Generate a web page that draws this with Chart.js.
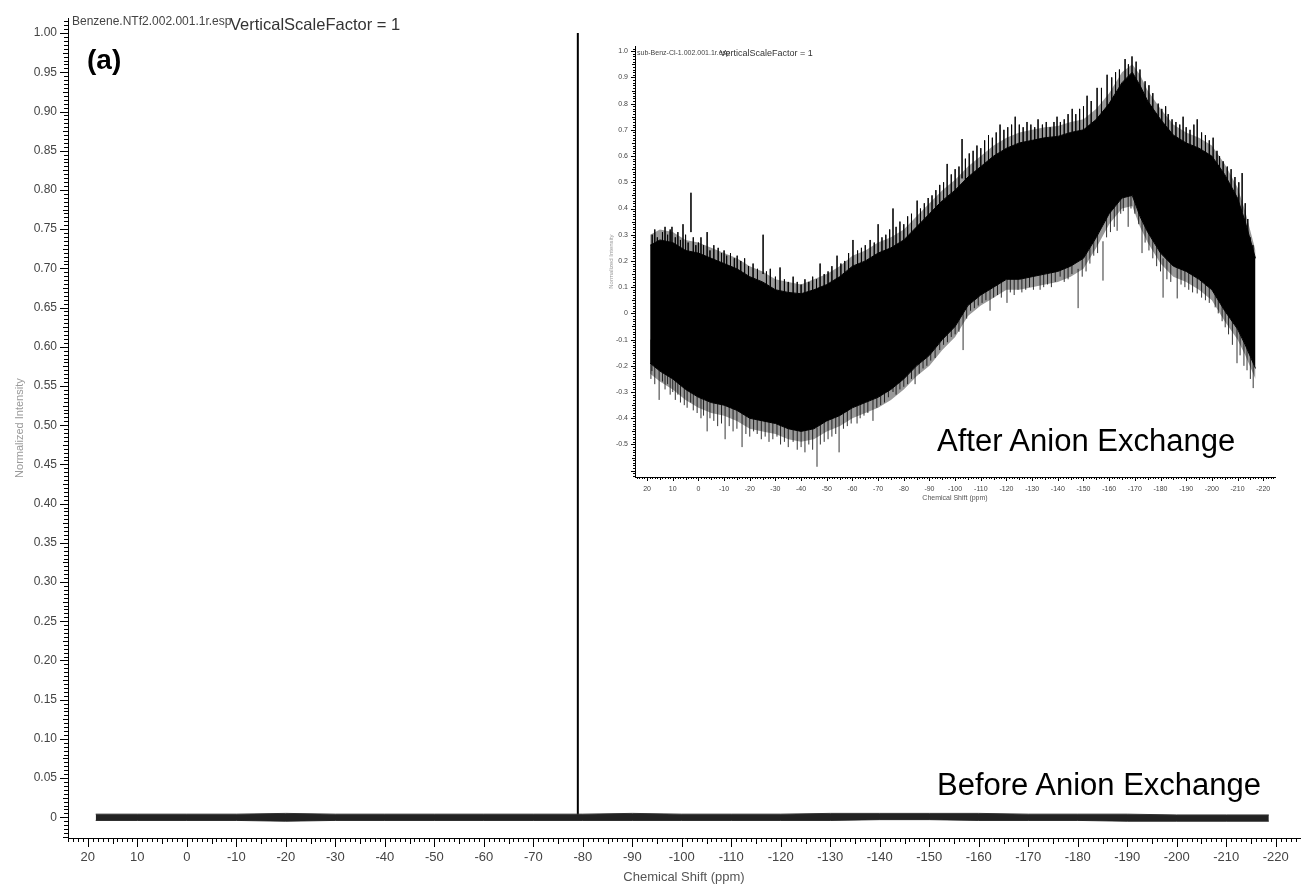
<!DOCTYPE html>
<html>
<head>
<meta charset="utf-8">
<script src="https://cdn.jsdelivr.net/npm/chart.js@4.4.1/dist/chart.umd.min.js"></script>
<style>
  html, body { margin: 0; padding: 0; background: #fff; }
  #wrap { position: relative; width: 1302px; height: 888px; overflow: hidden; font-family: Arial, "Liberation Sans", sans-serif; }
  canvas { position: absolute; }
  #main { left: 0; top: 0; }
  #inset { left: 600px; top: 35px; }
  .lbl { position: absolute; white-space: nowrap; line-height: 1; color: #000; }
</style>
</head>
<body>
<div id="wrap">
  <canvas id="main" width="1302" height="888"></canvas>
  <canvas id="inset" width="680" height="475"></canvas>
  <div class="lbl" style="left:72px; top:15px; font-size:12px; color:#444;">Benzene.NTf2.002.001.1r.esp</div>
  <div class="lbl" style="left:230px; top:16px; font-size:16.5px; color:#333;">VerticalScaleFactor = 1</div>
  <div class="lbl" style="left:87px; top:46px; font-size:28px; font-weight:bold;">(a)</div>
  <div class="lbl" style="left:637px; top:49px; font-size:7px; color:#444;">sub-Benz-Cl-1.002.001.1r.esp</div>
  <div class="lbl" style="left:720px; top:49px; font-size:9px; color:#333;">VerticalScaleFactor = 1</div>
  <div class="lbl" style="left:937px; top:425px; font-size:31px;">After Anion Exchange</div>
  <div class="lbl" style="left:937px; top:769px; font-size:31px;">Before Anion Exchange</div>
</div>
<script>
// ---- main spectrum (before exchange) ----
const mainXTicks = [20, 10, 0, -10, -20, -30, -40, -50, -60, -70, -80, -90, -100, -110, -120,
                    -130, -140, -150, -160, -170, -180, -190, -200, -210, -220];
const mainYTicks = [0, 0.05, 0.10, 0.15, 0.20, 0.25, 0.30, 0.35, 0.40, 0.45, 0.50,
                    0.55, 0.60, 0.65, 0.70, 0.75, 0.80, 0.85, 0.90, 0.95, 1.00];

const baselinePpm   = [18.4, 10, 0, -10, -20, -30, -40, -50, -60, -70, -80, -90, -100, -110, -120,
                       -130, -140, -150, -160, -170, -180, -190, -200, -210, -218.6];
const baselineUpper = [0.004, 0.004, 0.004, 0.004, 0.005, 0.004, 0.004, 0.004, 0.004, 0.004, 0.004, 0.005, 0.004,
                       0.004, 0.004, 0.005, 0.005, 0.005, 0.005, 0.004, 0.004, 0.004, 0.003, 0.003, 0.003];
const baselineLower = [-0.004, -0.004, -0.004, -0.004, -0.005, -0.004, -0.004, -0.004, -0.004, -0.004, -0.004, -0.004, -0.004,
                       -0.004, -0.004, -0.004, -0.003, -0.003, -0.004, -0.004, -0.004, -0.005, -0.005, -0.005, -0.005];
const peakPpm = -79.0;
const peakHeight = 1.0;

// ---- inset spectrum (after exchange) ----
const insetXTicks = mainXTicks;
const insetYTicks = [-0.5, -0.4, -0.3, -0.2, -0.1, 0, 0.1, 0.2, 0.3, 0.4, 0.5, 0.6, 0.7, 0.8, 0.9, 1.0];

// solid body of the noise band
const insetPpm   = [18.8, 15, 10, 5, 0, -5, -10, -15, -20, -25, -30, -35, -40, -45, -50, -55, -60, -65, -70, -75,
                    -80, -85, -90, -95, -100, -105, -110, -115, -120, -125, -130, -135, -140, -145, -150, -155,
                    -160, -165, -169, -172, -175, -180, -185, -190, -195, -200, -205, -210, -213, -217];
const insetUpper = [0.26, 0.28, 0.27, 0.24, 0.23, 0.21, 0.19, 0.17, 0.14, 0.12, 0.09, 0.08, 0.075, 0.09, 0.11, 0.14,
                    0.18, 0.20, 0.23, 0.25, 0.28, 0.33, 0.38, 0.43, 0.47, 0.52, 0.56, 0.60, 0.63, 0.65, 0.66, 0.67,
                    0.675, 0.69, 0.70, 0.74, 0.80, 0.88, 0.92, 0.87, 0.81, 0.74, 0.68, 0.65, 0.63, 0.60, 0.53, 0.44,
                    0.35, 0.21];
const insetLower = [-0.19, -0.22, -0.25, -0.29, -0.32, -0.34, -0.35, -0.37, -0.40, -0.41, -0.42, -0.44, -0.45, -0.44,
                    -0.41, -0.39, -0.36, -0.34, -0.32, -0.29, -0.25, -0.20, -0.16, -0.10, -0.05, 0.03, 0.07, 0.10,
                    0.13, 0.13, 0.14, 0.15, 0.16, 0.18, 0.21, 0.29, 0.38, 0.44, 0.45, 0.37, 0.31, 0.23, 0.18, 0.16,
                    0.13, 0.09, 0.01, -0.06, -0.12, -0.21];
// where the densely packed hairs thin out, above and below the body
const fringeUpper = [0.30, 0.32, 0.31, 0.28, 0.27, 0.25, 0.23, 0.21, 0.18, 0.16, 0.13, 0.12, 0.11, 0.13, 0.15, 0.18,
                     0.22, 0.24, 0.27, 0.29, 0.32, 0.37, 0.42, 0.47, 0.51, 0.56, 0.60, 0.64, 0.67, 0.69, 0.70, 0.71,
                     0.715, 0.73, 0.74, 0.78, 0.84, 0.92, 0.95, 0.91, 0.85, 0.78, 0.72, 0.69, 0.67, 0.64, 0.57, 0.48,
                     0.39, 0.24];
const fringeLower = [-0.23, -0.26, -0.29, -0.33, -0.36, -0.38, -0.39, -0.41, -0.44, -0.45, -0.46, -0.48, -0.49, -0.48,
                     -0.45, -0.43, -0.40, -0.38, -0.36, -0.33, -0.29, -0.24, -0.20, -0.14, -0.09, -0.01, 0.03, 0.06,
                     0.09, 0.09, 0.10, 0.11, 0.12, 0.14, 0.17, 0.25, 0.34, 0.40, 0.41, 0.33, 0.27, 0.19, 0.14, 0.12,
                     0.09, 0.05, -0.03, -0.10, -0.16, -0.25];

// hair tips sticking out of the top of the band: [ppm, intensity]
const upHairs = [
  [18, 0.30], [17, 0.32], [16, 0.29], [14, 0.31], [13, 0.33], [12, 0.30], [11, 0.32], [10.3, 0.33], [9, 0.29],
  [8, 0.31], [7, 0.28], [6, 0.34], [5, 0.30], [4, 0.27], [2.9, 0.46], [2, 0.29], [1, 0.26], [0, 0.27], [-1, 0.29],
  [-2, 0.26], [-3.4, 0.31], [-4.5, 0.24], [-6, 0.26], [-7.7, 0.25], [-9, 0.23], [-10, 0.24], [-11, 0.22],
  [-12.5, 0.23], [-14, 0.21], [-15.1, 0.22], [-16.5, 0.20], [-18, 0.21], [-19.5, 0.18], [-21.3, 0.19], [-23, 0.17],
  [-25.2, 0.30], [-26.5, 0.16], [-28, 0.17], [-30, 0.14], [-31.8, 0.175], [-33.5, 0.13], [-35, 0.12], [-36.9, 0.14],
  [-38.5, 0.12], [-40, 0.11], [-41.5, 0.13], [-43, 0.12], [-44.5, 0.14], [-46, 0.13], [-47.4, 0.19], [-49, 0.15],
  [-50.5, 0.16], [-52, 0.18], [-54, 0.22], [-55.5, 0.19], [-57, 0.20], [-58.5, 0.23], [-60.2, 0.28], [-62, 0.24],
  [-63.5, 0.25], [-65, 0.26], [-66.9, 0.28], [-68.5, 0.27], [-70, 0.34], [-71.5, 0.29], [-73, 0.30], [-74.5, 0.32],
  [-75.8, 0.40], [-77, 0.33], [-78.5, 0.35], [-80, 0.34], [-81.5, 0.37], [-83, 0.38], [-85.2, 0.43], [-86.5, 0.40],
  [-88, 0.42], [-89.5, 0.44], [-91, 0.45], [-92.5, 0.47], [-94, 0.49], [-95.5, 0.50], [-96.9, 0.57], [-98.5, 0.53],
  [-100, 0.55], [-101.5, 0.56], [-102.7, 0.665], [-104, 0.59], [-105.5, 0.61], [-107, 0.62], [-108.5, 0.64],
  [-110, 0.63], [-111.5, 0.66], [-113, 0.68], [-114.5, 0.67], [-116, 0.69], [-117.5, 0.72], [-119, 0.70],
  [-120.5, 0.71], [-122, 0.72], [-123.4, 0.75], [-125, 0.72], [-126.5, 0.71], [-128, 0.73], [-129.5, 0.72],
  [-131, 0.71], [-132.3, 0.74], [-134, 0.72], [-135.5, 0.73], [-137, 0.71], [-138.5, 0.73], [-139.7, 0.75],
  [-141, 0.73], [-142.5, 0.74], [-144, 0.76], [-145.6, 0.78], [-147, 0.76], [-148.5, 0.78], [-150, 0.79],
  [-151.4, 0.83], [-153, 0.81], [-155.3, 0.86], [-157, 0.86], [-159.2, 0.91], [-161, 0.90], [-162.5, 0.92],
  [-164, 0.93], [-166.2, 0.97], [-167.5, 0.95], [-168.9, 0.98], [-170.5, 0.96], [-172, 0.93], [-174, 0.885],
  [-175.5, 0.87], [-177, 0.84], [-179.1, 0.80], [-180.5, 0.78], [-182, 0.79], [-183, 0.76], [-184.5, 0.74],
  [-186, 0.73], [-187.5, 0.72], [-188.8, 0.75], [-190, 0.71], [-191.5, 0.70], [-193, 0.72], [-194.3, 0.74],
  [-196, 0.69], [-197.5, 0.68], [-199, 0.66], [-200.5, 0.67], [-202, 0.62], [-203, 0.60], [-204.4, 0.58],
  [-206, 0.56], [-207.5, 0.55], [-209, 0.52], [-210.5, 0.50], [-211.8, 0.535], [-213, 0.42], [-214, 0.36],
  [-214.9, 0.29], [-216, 0.26]
];
// hair tips hanging below the band
const downHairs = [
  [18.5, -0.25], [18.1, -0.22], [17, -0.27], [15.3, -0.33], [14, -0.26], [13, -0.29], [12, -0.27], [11, -0.31],
  [10, -0.30], [9, -0.33], [8, -0.31], [7, -0.34], [5.5, -0.35], [4.4, -0.36], [3, -0.34], [2, -0.37], [0.5, -0.38],
  [-1, -0.40], [-2, -0.39], [-3.4, -0.45], [-4.5, -0.40], [-6, -0.41], [-7.5, -0.43], [-9, -0.42], [-10.4, -0.48],
  [-12, -0.43], [-13.5, -0.45], [-15, -0.44], [-17, -0.51], [-18.5, -0.46], [-20, -0.47], [-21.5, -0.45],
  [-22.9, -0.46], [-24.5, -0.48], [-26, -0.47], [-27.5, -0.49], [-29, -0.48], [-30.6, -0.47], [-32, -0.50],
  [-33.5, -0.49], [-35, -0.51], [-36.9, -0.49], [-38.5, -0.52], [-40, -0.51], [-41.5, -0.53], [-43, -0.50],
  [-44.5, -0.52], [-46.2, -0.585], [-47.5, -0.50], [-49, -0.49], [-50.5, -0.48], [-52, -0.47], [-53.5, -0.46],
  [-54.8, -0.53], [-56.5, -0.44], [-58, -0.43], [-59.5, -0.42], [-61.8, -0.42], [-63, -0.40], [-64.5, -0.39],
  [-66, -0.38], [-68, -0.41], [-69.5, -0.36], [-71, -0.35], [-72.5, -0.34], [-74, -0.32], [-75.8, -0.30],
  [-77, -0.31], [-78.5, -0.29], [-80, -0.28], [-81.5, -0.27], [-83, -0.25], [-84.4, -0.27], [-86, -0.23],
  [-87.5, -0.21], [-89, -0.20], [-90.5, -0.18], [-92.2, -0.17], [-94, -0.14], [-95.5, -0.12], [-97, -0.11],
  [-98.5, -0.09], [-100, -0.08], [-101.5, -0.07], [-103.1, -0.14], [-104.5, -0.02], [-106, 0.01], [-107.5, 0.02],
  [-109, 0.03], [-110.5, 0.04], [-112, 0.05], [-113.6, 0.01], [-115, 0.06], [-116.5, 0.07], [-118, 0.06],
  [-120.2, 0.04], [-121.5, 0.08], [-123, 0.07], [-124.5, 0.09], [-126, 0.08], [-127.5, 0.09], [-129, 0.10],
  [-130.5, 0.09], [-133.1, 0.09], [-134.5, 0.10], [-136, 0.11], [-137.5, 0.10], [-139, 0.12], [-140.9, 0.14],
  [-142.5, 0.12], [-144, 0.13], [-145.5, 0.15], [-147.9, 0.02], [-149.5, 0.14], [-151, 0.16], [-152.5, 0.19],
  [-154, 0.22], [-155.5, 0.23], [-157.6, 0.125], [-159, 0.29], [-160.5, 0.31], [-162, 0.33], [-163.1, 0.315],
  [-164.5, 0.38], [-165.5, 0.39], [-167.4, 0.33], [-168.5, 0.40], [-170, 0.38], [-171.5, 0.34], [-172.8, 0.23],
  [-174, 0.27], [-175.5, 0.24], [-177, 0.21], [-178.5, 0.18], [-180, 0.16], [-181, 0.06], [-182.5, 0.13],
  [-184, 0.12], [-186.5, 0.057], [-188, 0.11], [-189.5, 0.10], [-191, 0.09], [-192.5, 0.08], [-194.3, 0.076],
  [-196, 0.06], [-197.5, 0.05], [-199, 0.04], [-201.3, 0.023], [-202.5, 0.00], [-204, -0.03], [-205.2, -0.053],
  [-206.5, -0.08], [-208, -0.12], [-209.8, -0.19], [-211, -0.16], [-212.5, -0.20], [-213.7, -0.217], [-215, -0.25],
  [-216.1, -0.285]
];

function pts(xs, ys) {
  return xs.map((x, i) => ({ x: x, y: ys[i] }));
}
// vertical hairlines: tip plus a stub reaching back into the band, broken by nulls
function hairs(list, dir) {
  const out = [];
  list.forEach(h => {
    out.push({ x: h[0], y: h[1] });
    out.push({ x: h[0], y: h[1] - dir * 0.15 });
    out.push({ x: h[0], y: null });
  });
  return out;
}

// minor / mid / major tick marks along both axes
const tickMarks = {
  id: 'tickMarks',
  afterDraw(chart, args, opts) {
    const ctx = chart.ctx;
    ctx.save();
    ctx.strokeStyle = '#000';
    ctx.lineWidth = 1;
    ctx.beginPath();
    ['x', 'y'].forEach(id => {
      const s = chart.scales[id], o = opts[id];
      const lo = Math.min(s.min, s.max), hi = Math.max(s.min, s.max);
      for (let i = Math.ceil(lo / o.step - 1e-6); i <= Math.floor(hi / o.step + 1e-6); i++) {
        const len = i % o.majorEvery === 0 ? o.lens[2] : (i % o.midEvery === 0 ? o.lens[1] : o.lens[0]);
        const p = Math.round(s.getPixelForValue(i * o.step)) + 0.5;
        if (id === 'x') {
          ctx.moveTo(p, s.top);
          ctx.lineTo(p, s.top + len);
        } else {
          ctx.moveTo(s.right, p);
          ctx.lineTo(s.right - len, p);
        }
      }
    });
    ctx.stroke();
    ctx.restore();
  }
};

function axisX(min, max, ticks, h, fontSize, pad, titleFont, titlePad) {
  return {
    type: 'linear', reverse: true, min: min, max: max,
    afterFit: s => { s.height = h; },
    afterBuildTicks: s => { s.ticks = ticks.map(v => ({ value: v })); },
    ticks: { font: { size: fontSize }, color: '#444', padding: pad, maxRotation: 0, autoSkip: false,
             callback: v => String(v) },
    grid: { display: false, drawTicks: false },
    border: { color: '#000', width: 1 },
    title: { display: true, text: 'Chemical Shift (ppm)', font: { size: titleFont }, color: '#555',
             padding: { top: 0, bottom: titlePad } }
  };
}
function axisY(min, max, ticks, w, fontSize, pad, fmt, titleFont, titlePad) {
  return {
    type: 'linear', min: min, max: max,
    afterFit: s => { s.width = w; },
    afterBuildTicks: s => { s.ticks = ticks.map(v => ({ value: v })); },
    ticks: { font: { size: fontSize }, color: '#444', padding: pad, autoSkip: false, callback: fmt },
    grid: { display: false, drawTicks: false },
    border: { color: '#000', width: 1 },
    title: { display: true, text: 'Normalized Intensity', font: { size: titleFont }, color: '#999',
             padding: { top: titlePad, bottom: 0 } }
  };
}

const common = {
  responsive: false, animation: false, devicePixelRatio: 1,
  plugins: { legend: { display: false }, tooltip: { enabled: false } },
  elements: { point: { radius: 0 }, line: { tension: 0 } }
};

new Chart(document.getElementById('main'), {
  type: 'line',
  data: {
    datasets: [
      { data: pts(baselinePpm, baselineUpper), borderColor: '#333', borderWidth: 1, fill: '+1', backgroundColor: '#222' },
      { data: pts(baselinePpm, baselineLower), borderColor: '#333', borderWidth: 1, fill: false },
      { data: [{ x: peakPpm, y: 0 }, { x: peakPpm, y: peakHeight }], borderColor: '#000', borderWidth: 2, fill: false }
    ]
  },
  options: Object.assign({}, common, {
    layout: { padding: { top: 8, right: 2, left: 0, bottom: 0 } },
    plugins: Object.assign({}, common.plugins, {
      tickMarks: {
        x: { step: 1, midEvery: 5, majorEvery: 10, lens: [4, 6, 9] },
        y: { step: 0.005, midEvery: 5, majorEvery: 10, lens: [4, 5, 8] }
      }
    }),
    scales: {
      x: axisX(-224.9, 24, mainXTicks, 50, 13, 12, 13, 3),
      y: axisY(-0.0264, 1.019, mainYTicks, 68, 12, 11, v => (v === 0 ? '0' : v.toFixed(2)), 11, 13)
    }
  }),
  plugins: [tickMarks]
});

new Chart(document.getElementById('inset'), {
  type: 'line',
  data: {
    datasets: [
      { data: hairs(upHairs, 1), borderColor: 'rgba(0,0,0,0.8)', borderWidth: 1, fill: false, spanGaps: false },
      { data: hairs(downHairs, -1), borderColor: 'rgba(0,0,0,0.8)', borderWidth: 1, fill: false, spanGaps: false },
      { data: pts(insetPpm, fringeUpper), borderWidth: 0, fill: 4, backgroundColor: 'rgba(0,0,0,0.4)' },
      { data: pts(insetPpm, fringeLower), borderWidth: 0, fill: 5, backgroundColor: 'rgba(0,0,0,0.4)' },
      { data: pts(insetPpm, insetUpper), borderColor: '#000', borderWidth: 1, fill: '+1', backgroundColor: '#000' },
      { data: pts(insetPpm, insetLower), borderColor: '#000', borderWidth: 1, fill: false }
    ]
  },
  options: Object.assign({}, common, {
    layout: { padding: { top: 10, right: 5, left: 0, bottom: 0 } },
    plugins: Object.assign({}, common.plugins, {
      tickMarks: {
        x: { step: 1, midEvery: 5, majorEvery: 10, lens: [2, 3, 4] },
        y: { step: 0.01, midEvery: 5, majorEvery: 10, lens: [2, 3, 4] }
      }
    }),
    scales: {
      x: axisX(-224.6, 24.7, insetXTicks, 33, 7, 8, 7, 8),
      y: axisY(-0.624, 1.019, insetYTicks, 35, 7, 7, v => (v === 0 ? '0' : v.toFixed(1)), 6, 8)
    }
  }),
  plugins: [tickMarks]
});
</script>
</body>
</html>
